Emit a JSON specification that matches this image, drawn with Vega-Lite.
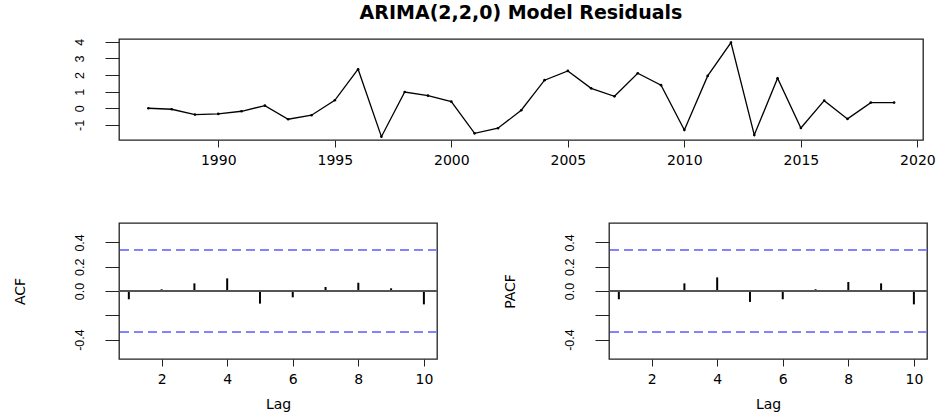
{
  "$schema": "https://vega.github.io/schema/vega-lite/v6.json",
  "padding": {"left": 12, "top": 3, "right": 8, "bottom": 4},
  "background": "white",
  "datasets": {
    "resid": [
      {"year": 1987, "resid": 0.0},
      {"year": 1988, "resid": -0.06},
      {"year": 1989, "resid": -0.38},
      {"year": 1990, "resid": -0.34},
      {"year": 1991, "resid": -0.18},
      {"year": 1992, "resid": 0.16},
      {"year": 1993, "resid": -0.66},
      {"year": 1994, "resid": -0.42},
      {"year": 1995, "resid": 0.48},
      {"year": 1996, "resid": 2.35},
      {"year": 1997, "resid": -1.71},
      {"year": 1998, "resid": 0.98},
      {"year": 1999, "resid": 0.76},
      {"year": 2000, "resid": 0.4},
      {"year": 2001, "resid": -1.51},
      {"year": 2002, "resid": -1.2},
      {"year": 2003, "resid": -0.12},
      {"year": 2004, "resid": 1.69},
      {"year": 2005, "resid": 2.25},
      {"year": 2006, "resid": 1.2},
      {"year": 2007, "resid": 0.72},
      {"year": 2008, "resid": 2.11},
      {"year": 2009, "resid": 1.39},
      {"year": 2010, "resid": -1.31},
      {"year": 2011, "resid": 1.95},
      {"year": 2012, "resid": 3.95},
      {"year": 2013, "resid": -1.61},
      {"year": 2014, "resid": 1.81},
      {"year": 2015, "resid": -1.19},
      {"year": 2016, "resid": 0.46},
      {"year": 2017, "resid": -0.64},
      {"year": 2018, "resid": 0.34},
      {"year": 2019, "resid": 0.34}
    ],
    "cf": [
      {"lag": 1, "acf": -0.068, "pacf": -0.068},
      {"lag": 2, "acf": 0.014, "pacf": 0.008},
      {"lag": 3, "acf": 0.063, "pacf": 0.063},
      {"lag": 4, "acf": 0.104, "pacf": 0.112},
      {"lag": 5, "acf": -0.104, "pacf": -0.09},
      {"lag": 6, "acf": -0.052, "pacf": -0.068},
      {"lag": 7, "acf": 0.033, "pacf": 0.014},
      {"lag": 8, "acf": 0.068, "pacf": 0.074},
      {"lag": 9, "acf": 0.022, "pacf": 0.063},
      {"lag": 10, "acf": -0.11, "pacf": -0.11}
    ]
  },
  "config": {
    "font": "DejaVu Sans",
    "view": {"stroke": "#222", "strokeWidth": 1.3},
    "axis": {
      "domain": false,
      "grid": false,
      "ticks": true,
      "tickColor": "#222",
      "tickWidth": 1,
      "labelColor": "#000",
      "titleColor": "#000",
      "titleFont": "DejaVu Sans",
      "titleFontSize": 14,
      "titleFontWeight": "normal",
      "labelFlush": false,
      "labelOverlap": false,
      "labelBound": false
    },
    "axisX": {"tickSize": 7, "labelPadding": 17, "labelBaseline": "alphabetic", "labelAngle": 0, "labelFont": "DejaVu Sans", "labelFontSize": 14, "titlePadding": 11},
    "axisY": {"tickSize": 14, "labelAngle": -90, "labelAlign": "center", "labelBaseline": "bottom", "labelPadding": 19, "labelFont": "Liberation Sans", "labelFontSize": 12.5, "titlePadding": 46}
  },
  "spacing": 83,
  "bounds": "flush",
  "vconcat": [
    {
      "width": 804,
      "height": 101,
      "title": {"text": "ARIMA(2,2,0) Model Residuals", "frame": "group", "anchor": "middle", "fontSize": 19, "fontWeight": "bold", "font": "DejaVu Sans", "offset": 0, "baseline": "alphabetic", "color": "#000"},
      "data": {"name": "resid"},
      "encoding": {
        "x": {"field": "year", "type": "quantitative", "scale": {"domain": [1985.74, 2020.24], "nice": false, "zero": false}, "axis": {"values": [1990, 1995, 2000, 2005, 2010, 2015, 2020], "format": "d", "title": null, "labelOverlap": false}},
        "y": {"field": "resid", "type": "quantitative", "scale": {"domain": [-1.91, 4.17], "nice": false, "zero": false}, "axis": {"values": [-1, 0, 1, 2, 3, 4], "labelExpr": "datum.value + ''", "title": null, "labelOverlap": false}}
      },
      "layer": [
        {"mark": {"type": "line", "color": "#000", "strokeWidth": 1.3}},
        {"mark": {"type": "point", "filled": true, "color": "#000", "size": 7, "opacity": 1}}
      ]
    },
    {
      "hconcat": [
        {
          "width": 318,
          "height": 136,
          "data": {"name": "cf"},
          "layer": [
            {
              "mark": {"type": "rule", "color": "#000", "strokeWidth": 2},
              "encoding": {
                "x": {"field": "lag", "type": "quantitative", "scale": {"domain": [0.7, 10.4], "nice": false, "zero": false}, "axis": {"values": [2, 4, 6, 8, 10], "title": "Lag", "labelOverlap": false}},
                "y": {"field": "acf", "type": "quantitative", "title": "ACF", "scale": {"domain": [-0.56, 0.56], "nice": false, "zero": false}, "axis": {"values": [-0.4, -0.2, 0, 0.2, 0.4], "labelOverlap": false, "labelExpr": "abs(datum.value + 0.2) < 0.001 ? '' : replace(format(datum.value, '.1f'), '\u2212', '-')"}},
                "y2": {"datum": 0}
              }
            },
            {"mark": {"type": "rule", "color": "#555", "strokeWidth": 1}, "encoding": {"y": {"datum": 0, "type": "quantitative", "title": "ACF", "scale": {"domain": [-0.56, 0.56], "nice": false, "zero": false}, "axis": {"values": [-0.4, -0.2, 0, 0.2, 0.4], "labelOverlap": false, "labelExpr": "abs(datum.value + 0.2) < 0.001 ? '' : replace(format(datum.value, '.1f'), '\u2212', '-')"}}}},
            {"mark": {"type": "rule", "color": "#8080ff", "strokeDash": [9, 5], "strokeWidth": 1.4}, "encoding": {"y": {"datum": 0.341, "type": "quantitative", "title": "ACF", "scale": {"domain": [-0.56, 0.56], "nice": false, "zero": false}, "axis": {"values": [-0.4, -0.2, 0, 0.2, 0.4], "labelOverlap": false, "labelExpr": "abs(datum.value + 0.2) < 0.001 ? '' : replace(format(datum.value, '.1f'), '\u2212', '-')"}}}},
            {"mark": {"type": "rule", "color": "#8080ff", "strokeDash": [9, 5], "strokeWidth": 1.4}, "encoding": {"y": {"datum": -0.341, "type": "quantitative", "title": "ACF", "scale": {"domain": [-0.56, 0.56], "nice": false, "zero": false}, "axis": {"values": [-0.4, -0.2, 0, 0.2, 0.4], "labelOverlap": false, "labelExpr": "abs(datum.value + 0.2) < 0.001 ? '' : replace(format(datum.value, '.1f'), '\u2212', '-')"}}}}
          ]
        },
        {
          "width": 318,
          "height": 136,
          "data": {"name": "cf"},
          "layer": [
            {
              "mark": {"type": "rule", "color": "#000", "strokeWidth": 2},
              "encoding": {
                "x": {"field": "lag", "type": "quantitative", "scale": {"domain": [0.7, 10.4], "nice": false, "zero": false}, "axis": {"values": [2, 4, 6, 8, 10], "title": "Lag", "labelOverlap": false}},
                "y": {"field": "pacf", "type": "quantitative", "title": "PACF", "scale": {"domain": [-0.56, 0.56], "nice": false, "zero": false}, "axis": {"values": [-0.4, -0.2, 0, 0.2, 0.4], "labelOverlap": false, "labelExpr": "abs(datum.value + 0.2) < 0.001 ? '' : replace(format(datum.value, '.1f'), '\u2212', '-')"}},
                "y2": {"datum": 0}
              }
            },
            {"mark": {"type": "rule", "color": "#555", "strokeWidth": 1}, "encoding": {"y": {"datum": 0, "type": "quantitative", "title": "PACF", "scale": {"domain": [-0.56, 0.56], "nice": false, "zero": false}, "axis": {"values": [-0.4, -0.2, 0, 0.2, 0.4], "labelOverlap": false, "labelExpr": "abs(datum.value + 0.2) < 0.001 ? '' : replace(format(datum.value, '.1f'), '\u2212', '-')"}}}},
            {"mark": {"type": "rule", "color": "#8080ff", "strokeDash": [9, 5], "strokeWidth": 1.4}, "encoding": {"y": {"datum": 0.341, "type": "quantitative", "title": "PACF", "scale": {"domain": [-0.56, 0.56], "nice": false, "zero": false}, "axis": {"values": [-0.4, -0.2, 0, 0.2, 0.4], "labelOverlap": false, "labelExpr": "abs(datum.value + 0.2) < 0.001 ? '' : replace(format(datum.value, '.1f'), '\u2212', '-')"}}}},
            {"mark": {"type": "rule", "color": "#8080ff", "strokeDash": [9, 5], "strokeWidth": 1.4}, "encoding": {"y": {"datum": -0.341, "type": "quantitative", "title": "PACF", "scale": {"domain": [-0.56, 0.56], "nice": false, "zero": false}, "axis": {"values": [-0.4, -0.2, 0, 0.2, 0.4], "labelOverlap": false, "labelExpr": "abs(datum.value + 0.2) < 0.001 ? '' : replace(format(datum.value, '.1f'), '\u2212', '-')"}}}}
          ]
        }
      ],
      "spacing": 172,
      "bounds": "flush"
    }
  ]
}
